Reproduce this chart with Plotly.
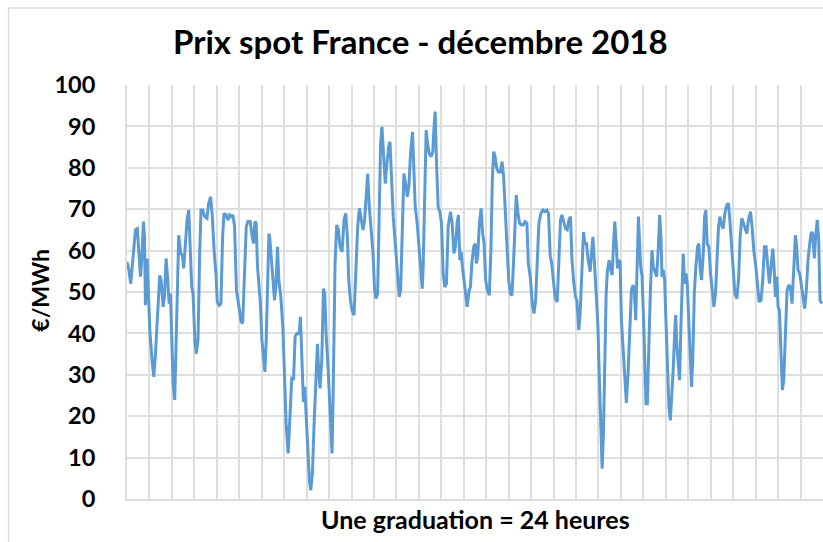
import plotly.graph_objects as go

# Hour of the month (0 = 1 Dec 00:00) and spot price in EUR/MWh
hours = [
    0, 2, 4, 6, 7.4, 9, 11, 12.6, 14.4, 15.8, 17.6, 18.7, 19.7, 21.5, 22.6,
    24.4, 26.8, 28.6, 30.4, 32.9, 35, 36.4, 38.6, 40, 41.8, 43.6, 45, 46.4,
    48.2, 49.3, 51, 52.8, 55.3, 57.4, 59.2, 60.6, 62.8, 64.2, 66, 67.7, 69.2,
    70.6, 72.7, 74.1, 75.9, 77.7, 79.1, 80.9, 83, 85.5, 87.3, 89.4, 91.2,
    93.3, 95.1, 96.5, 98.7, 100.4, 102.2, 103.7, 106.1, 107.9, 109.7, 111.5,
    113.2, 115, 117, 118.6, 120.4, 122.1, 123.6, 125.3, 127.5, 129.2, 131.7,
    133.9, 135.3, 136.7, 138.1, 139.5, 141, 142.4, 144.2, 146, 147.4, 148.8,
    150.2, 151.7, 152.7, 154.2, 156, 157.7, 159.1, 160.9, 162.3, 164.4,
    166.6, 168.4, 170.1, 172.3, 173.7,
    176.2, 178, 179.7, 181.5, 184, 185.4, 186.8, 188.6, 190, 191.5, 193.2,
    195, 196.4, 198.2, 200, 201.8, 203.6, 205, 206.4, 208.2, 210, 211.4,
    212.8, 214.9, 217.1, 219.2, 220.6, 222.4, 224.2, 226, 227.7, 229.9, 232,
    233.8, 235.6, 237, 238.8, 240.5, 242.7, 244.5, 246.6, 248.4, 250.1,
    252.3, 254, 255.8, 257.3, 259, 261.2, 263, 264.7, 266.1, 267.9, 269.3,
    271.1, 272.5, 274.3, 276.1, 277.9, 279.7, 281.1, 282.5, 284.6, 286.8,
    288.9, 291, 292.5, 294.2, 296, 297.8, 299.6, 301.3, 303.1, 305.2, 306.7,
    308.1, 310.2, 312.4, 314.1, 315.6, 316.6, 318.1, 319.8, 321.3, 323,
    325.2, 326.9, 328, 329.4, 330.9, 332.6, 334.4, 336.2, 338, 339.7, 341.5,
    343.3, 345.8, 347.6, 349.4, 351.1, 352.9, 354.3, 355.8, 357.2, 358.6,
    360.7, 362.2, 363.6, 365.7,
    367.1, 368.9, 370.6, 372.1, 373.5, 374.9, 376.7, 378.5, 380.2, 381.7,
    383.4, 385.2, 387.3, 389.1, 390.5, 392, 393.4, 395.2, 396.9, 399.1,
    400.9, 402.6, 404.4, 406.2, 408, 409.7, 411.5, 413.3, 414.7, 416.1,
    417.9, 419.7, 421.8, 423.6, 425.4, 427.5, 429, 431.1, 433.2, 435, 436.8,
    438.6, 440.3, 442.5, 444.6, 446.7, 448.9, 450.6, 452.4, 453.8, 456,
    457.8, 459.9, 461.7, 463.4, 464.9, 466.6, 468.8, 470.6, 472.3, 474.1,
    475.5, 477.3, 479.5, 480.9, 483, 484.4, 486.2, 488, 489.4, 491.2, 493,
    495.1, 496.5, 498, 499.7, 501.5, 503.3, 505, 506.5, 507.9, 509.3, 510.7,
    512.2, 513.6, 515.4, 517.1, 518.6, 520, 521.4, 522.8, 524.3, 525.7,
    527.1, 528.5, 530.3, 532.1, 533.8, 535.6, 537.4, 539.2, 541, 542.4,
    543.8, 545.2, 546.7,
    549.1, 550.5, 552, 553.4, 554.8, 556.2, 557.7, 559.4, 561.2, 562.6,
    564.4, 566.2, 568, 569.4, 570.8, 571.9, 573.3, 574.7, 576.1, 577.9,
    579.3, 580.8, 582.2, 584, 585.4, 586.5, 587.9, 589.3, 590.7, 592.1,
    593.6, 594.6, 596.1, 597.5, 598.9, 600.3, 601.7, 603.5, 604.9, 606.4,
    608.1, 609.9, 611.3, 612.8, 614.2, 616, 617.4, 618.8, 620.2, 622, 623.8,
    625.6, 627.4, 629.1, 630.9, 632.3, 633.8, 635.5, 637.3, 639.1, 641.2,
    643, 644.4, 646.2, 648, 649.8, 651.9, 653.7, 655.4, 657.2, 659, 660.8,
    662.6, 664.3, 666.5, 668.2, 670, 672.2, 673.9, 675.7, 677.8, 679.6,
    681.4, 683.2, 685, 686.7, 688.5, 690.3, 691.7, 693.1, 694.6, 696, 697.4,
    698.8, 700.6, 702, 703.8, 705.6, 707.4, 709.1, 710.9, 712.7, 714.5,
    715.9, 717.3, 719.1, 720.9, 722.6, 724.4, 726.2, 728, 729.8, 731.5, 733,
    734.7, 736.1, 737.9, 739.4, 740.8, 742.9,
]

prices = [
    57.3, 55.3, 52, 56.9, 59.3, 65, 65.3, 60, 53.7, 58, 67, 63.3, 46.8, 58.1, 52.9,
    40.8, 33.5, 29.5, 35, 46.4, 54, 52.9, 46.4, 48.8, 58.1, 52.9, 47.2, 49.6,
    36.7, 27.9, 23.9, 40.8, 63.7, 59.3, 58.9, 55.7, 63.3, 67.4, 69.8, 58.5, 51.2,
    49.6, 37.6, 35.1, 38.4, 59.3, 69.8, 69.8, 68.2, 67.8, 71.4, 73, 68.2,
    59.3, 54.5, 47.6, 46.8, 47.2, 63.3, 69, 68.6, 67.4, 68.6, 68.2,
    68.6, 65.8, 50.4, 48, 44.8, 42.8, 42.4, 51.2, 65.8, 67, 67,
    63.3, 61.7, 67, 66.6, 56.1, 52, 48, 38.4, 32.7, 30.7, 38.4,
    52.9, 64.1, 62.9, 57.7, 52, 48, 51.2, 60.9, 52.9, 48.8,
    41.6, 28.7, 18.2, 11, 17.4,
    29.5, 28.7, 39.2, 40, 40, 44, 36.7, 23.4, 27.1, 20.6, 11,
    4.5, 2.1, 6.1, 18.2, 30.3, 37.5, 30.3, 26.7, 33.5, 50.8, 49.6,
    40, 31.9, 20.6, 11, 28.7, 56.9, 66.2, 65, 60.9, 59.7, 67.4,
    69, 63.3, 52.9, 48, 45.6, 44.4, 52.9, 65.8, 70.2, 68.2,
    65, 67.4, 73, 78.6, 70.6, 65, 59.3, 50.4, 48.4, 49.6, 69,
    85.9, 89.9, 83.5, 76.2, 81.1, 85.1, 86.3, 77, 68.2, 61.7,
    54.5, 48.8, 50.4, 65, 78.6, 76.2, 73, 75.4, 83.5, 88.7, 81.1,
    70.6, 66.6, 60.9, 56.1, 50.8, 56.1, 73, 89.1, 85.9, 83.5,
    82.7, 83.9, 89.1, 93.6, 81.1, 70.6, 69.4, 66.6, 54.5, 51.2, 52,
    65.8, 69.4, 66.6, 59.3, 60.9, 66.6, 68.6, 57.7, 59.7, 56.1,
    52, 48, 46.4, 50.4,
    51.2, 57.7, 60.9, 61.7, 56.9, 58.5, 66.6, 70.2, 64.1, 61.7,
    52.9, 50.4, 49.2, 60.9, 77, 83.9, 82.7, 79.9, 79, 79,
    81.5, 77.8, 69, 60.1, 52.9, 49.6, 49.2, 57.7, 68.2, 73.4,
    69, 66.6, 66.2, 66.2, 67, 66.6, 56.9, 53.7, 47.2, 44.8, 48,
    59.3, 66.6, 69, 69.8, 69.4, 69.8, 69, 58.5, 57.3, 51.2,
    48.4, 47.6, 56.9, 67.4, 68.6, 67, 65.3, 65, 67.4, 68.2,
    58.5, 52.9, 48.8, 48, 40.8, 44.8, 56.1, 64.5, 61.7, 61.7, 57.7,
    54.9, 59.3, 63.3, 56.9, 48.8, 42.4, 28.7, 15.8, 7.3, 15.8, 32.7,
    49.6, 55.3, 57.7, 55.3, 54.1, 60.9, 67, 62.5, 55.7, 57.7,
    57.3, 43.2, 36.7, 28.7, 23.2, 30.3, 42.4, 50.4, 51.7, 49.6,
    43.2, 56.1, 68.2,
    56.1, 54.1, 44.8, 34.3, 23, 23, 36.7, 49.6, 60.1, 56.1,
    54.9, 53.7, 60.9, 68.6, 63.3, 53.7, 55.3, 52.9, 43.2, 31.1,
    22.2, 19, 23.9, 31.9, 40, 44.4, 36.7, 31.1, 28.7, 41.6,
    56.1, 59.3, 52, 54.5, 52, 44.8, 35.1, 27.1, 34.3, 49.6,
    56.1, 60.9, 61.7, 55.3, 52.9, 59.3, 68.2, 69.8, 61.7, 60.9, 54.5,
    49.6, 46.4, 49.6, 59.3, 65.8, 68.2, 66.2, 65.3, 69, 71,
    71.4, 67.4, 60.9, 54.5, 49.6, 48.4, 52.9, 63.3, 67.8, 66.6, 65,
    64.1, 67.4, 69.4, 65.8, 60.1, 56.1, 51.2, 47.6, 48, 52.9,
    60.9, 60.9, 56.1, 52, 56.1, 60.5, 56.1, 48.8, 53.7, 46.4, 45.6,
    38.4, 26.3, 28.7, 40, 50.4, 51.7, 51.2, 47.2, 56.1, 63.7,
    60.9, 55.3, 54.5, 51.2, 48, 46, 50.4, 57.7, 61.7, 64.5, 64.1,
    58.1, 63.3, 67.4, 62.5, 48, 47.2,
]

y_ticks = [0, 10, 20, 30, 40, 50, 60, 70, 80, 90, 100]

title_text = "Prix spot France - décembre 2018"
y_title = "€/MWh"
x_title = "Une graduation = 24 heures"

W, H = 823, 542
L, R, T, B = 126.5, 0, 85, 43.3
pw, ph = W - L - R, H - T - B

def px(x):
    return (x - L) / pw

def py(y):
    return (H - B - y) / ph

FONT = "Lato"
GRID = "#dedede"

fig = go.Figure()
fig.add_trace(go.Scatter(
    x=hours, y=prices, mode="lines",
    line=dict(color="#5B9BD5", width=3),
    hoverinfo="skip",
))

fig.update_layout(
    width=W, height=H,
    margin=dict(l=L, r=R, t=T, b=B, pad=0),
    paper_bgcolor="white", plot_bgcolor="white",
    showlegend=False,
    font=dict(family=FONT, color="black"),
    title=dict(
        text=title_text, xref="paper", x=px(420), xanchor="center",
        yref="container", y=1 - 42 / H, yanchor="middle",
        font=dict(family=FONT, size=33, weight="bold", color="black"),
    ),
    xaxis=dict(
        range=[0, 744], tick0=0, dtick=24, showticklabels=False,
        showgrid=True, gridcolor=GRID, gridwidth=2,
        zeroline=False, showline=True, linecolor=GRID, linewidth=2,
        ticks="",
    ),
    yaxis=dict(
        range=[0, 100], tickvals=y_ticks, ticktext=[str(v) for v in y_ticks],
        showgrid=True, gridcolor=GRID, gridwidth=2,
        zeroline=False, showline=True, linecolor=GRID, linewidth=2,
        ticks="", ticklabelstandoff=25,
        tickfont=dict(family=FONT, size=23.5, weight="bold", color="black"),
    ),
    annotations=[
        dict(text=y_title, xref="paper", yref="paper", x=px(40), y=py(290),
             textangle=-90, showarrow=False, xanchor="center", yanchor="middle",
             font=dict(family=FONT, size=23, weight="bold", color="black")),
        dict(text=x_title, xref="paper", yref="paper", x=px(475), y=py(519),
             showarrow=False, xanchor="center", yanchor="middle",
             font=dict(family=FONT, size=25, weight="bold", color="black")),
    ],
    shapes=[
        dict(type="rect", xref="paper", yref="paper",
             x0=px(8), y0=py(560), x1=px(840), y1=py(8),
             line=dict(color=GRID, width=1.5), fillcolor="rgba(0,0,0,0)",
             layer="below"),
    ],
)

fig.write_html(
    "out.html",
    config={"displayModeBar": False, "staticPlot": True},
    post_script="document.body.style.margin='0';document.body.style.overflow='hidden';",
)
